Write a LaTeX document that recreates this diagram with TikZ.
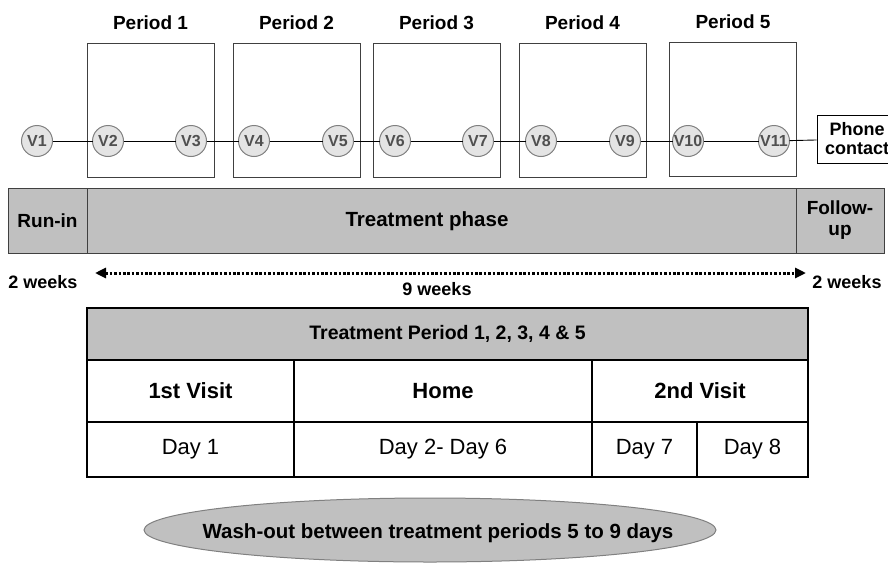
\documentclass[tikz,border=0pt]{standalone}
\usepackage{fontspec}
\setmainfont{Liberation Sans}
\usepackage{tikz}
\usepackage{tkz-berge}
\usetikzlibrary{shapes.geometric,arrows.meta}
\definecolor{bandgray}{HTML}{C0C0C0}
\definecolor{ballgray}{HTML}{E4E4E4}
\definecolor{rimgray}{HTML}{808080}
\definecolor{inkgray}{HTML}{505050}
\definecolor{framegray}{HTML}{404040}

\begin{document}
\begin{tikzpicture}[x=1pt,y=-1pt]
  \path[use as bounding box,clip] (0,0) rectangle (888,562);
  \tikzstyle{VertexStyle}=[shape=circle,draw=rimgray,fill=ballgray,line width=1pt,
    minimum size=31pt,inner sep=0pt,text=inkgray,font=\fontsize{16}{18}\bfseries\selectfont]
  \tikzstyle{LabelStyle}=[]
  \tikzstyle{EdgeStyle}=[black,line width=0.9pt]
  \tikzstyle{periodbox}=[draw=framegray,line width=1pt,minimum width=127pt,minimum height=134pt]
  \tikzstyle{periodlabel}=[font=\fontsize{19}{22}\bfseries\selectfont]
  \tikzstyle{bandcell}=[draw=framegray,fill=bandgray,line width=1pt,minimum height=65pt,
    inner sep=0pt,align=center,font=\fontsize{19}{21}\bfseries\selectfont]
  \tikzstyle{weeks}=[font=\fontsize{18}{20}\bfseries\selectfont]
  \tikzstyle{cell}=[draw=black,line width=2pt,inner sep=0pt,outer sep=0pt]
  % periods
  \node[periodbox] (P1) at (150.5,110) {};
  \node[periodbox] (P2) at (296.5,110) {};
  \node[periodbox] (P3) at (436.5,110) {};
  \node[periodbox] (P4) at (582.5,110) {};
  \node[periodbox] (P5) at (733,109.5) {};
  \node[periodlabel] (L1) at (150.5,23) {Period 1};
  \node[periodlabel] (L2) at (296.5,23) {Period 2};
  \node[periodlabel] (L3) at (436.5,23) {Period 3};
  \node[periodlabel] (L4) at (582.5,23) {Period 4};
  \node[periodlabel] (L5) at (733,22) {Period 5};
  % visits
  \node[draw=black,line width=1pt,minimum width=80pt,minimum height=48pt,inner sep=0pt,
    align=center,font=\fontsize{18}{19}\bfseries\selectfont] (phone) at (857,139) {Phone\\contact};
  \Vertex[x=37,y=141]{V1}
  \Vertex[x=108,y=141]{V2}
  \Vertex[x=191,y=141]{V3}
  \Vertex[x=254,y=141]{V4}
  \Vertex[x=338,y=141]{V5}
  \Vertex[x=395,y=141]{V6}
  \Vertex[x=478,y=141]{V7}
  \Vertex[x=541,y=141]{V8}
  \Vertex[x=625,y=141]{V9}
  \Vertex[x=688,y=141]{V10}
  \Vertex[x=774,y=141]{V11}
  \Edge[](V1)(V2)
  \Edge[](V2)(V3)
  \Edge[](V3)(V4)
  \Edge[](V4)(V5)
  \Edge[](V5)(V6)
  \Edge[](V6)(V7)
  \Edge[](V7)(V8)
  \Edge[](V8)(V9)
  \Edge[](V9)(V10)
  \Edge[](V10)(V11)
  \Edge[](V11)(phone)
  % phases
  \node[bandcell,minimum width=79pt] (runin) at (47.5,220.5) {Run-in};
  \node[bandcell,minimum width=709pt] (treat) at (441.5,220.5) {};
  \node[font=\fontsize{20.5}{22}\bfseries\selectfont] (treattext) at (427,221) {Treatment phase};
  \node[bandcell,minimum width=88pt] (follow) at (840,220.5) {Follow-\\up};
  \coordinate (wl) at (95,273);
  \coordinate (wr) at (806,273);
  \draw[line width=3pt,dash pattern=on 2.6pt off 1.8pt,
    {Triangle[length=11pt,width=10pt]}-{Triangle[length=11pt,width=10pt]}] (wl) -- (wr);
  \node[weeks] (w1) at (43,282) {2 weeks};
  \node[weeks] (w9) at (437,289) {9 weeks};
  \node[weeks] (w2) at (847,282) {2 weeks};
  % treatment period table
  \node[cell,fill=bandgray,minimum width=721pt,minimum height=52pt,
    font=\fontsize{19.5}{21}\bfseries\selectfont] (head) at (447.5,334) {Treatment Period 1, 2, 3, 4 \& 5};
  \node[cell,minimum width=207pt,minimum height=62pt,font=\fontsize{22}{24}\bfseries\selectfont] (visit1) at (190.5,391) {1st Visit};
  \node[cell,minimum width=298pt,minimum height=62pt,font=\fontsize{22}{24}\bfseries\selectfont] (home) at (443,391) {Home};
  \node[cell,minimum width=216pt,minimum height=62pt,font=\fontsize{22}{24}\bfseries\selectfont] (visit2) at (700,391) {2nd Visit};
  \node[cell,minimum width=207pt,minimum height=55pt,font=\fontsize{22}{24}\selectfont] (day1) at (190.5,449.5) {Day 1};
  \node[cell,minimum width=298pt,minimum height=55pt,font=\fontsize{22}{24}\selectfont] (day2) at (443,449.5) {Day 2- Day 6};
  \node[cell,minimum width=105pt,minimum height=55pt,font=\fontsize{22}{24}\selectfont] (day7) at (644.5,449.5) {Day 7};
  \node[cell,minimum width=111pt,minimum height=55pt,font=\fontsize{22}{24}\selectfont] (day8) at (752.5,449.5) {Day 8};
  % wash-out
  \node[ellipse,draw=rimgray,fill=bandgray,line width=1pt,minimum width=572pt,minimum height=64pt,
    inner sep=0pt] (wash) at (430,530) {};
  \node[font=\fontsize{20.5}{22}\bfseries\selectfont] (washtext) at (438,533) {Wash-out between treatment periods 5 to 9 days};
\end{tikzpicture}
\end{document}
